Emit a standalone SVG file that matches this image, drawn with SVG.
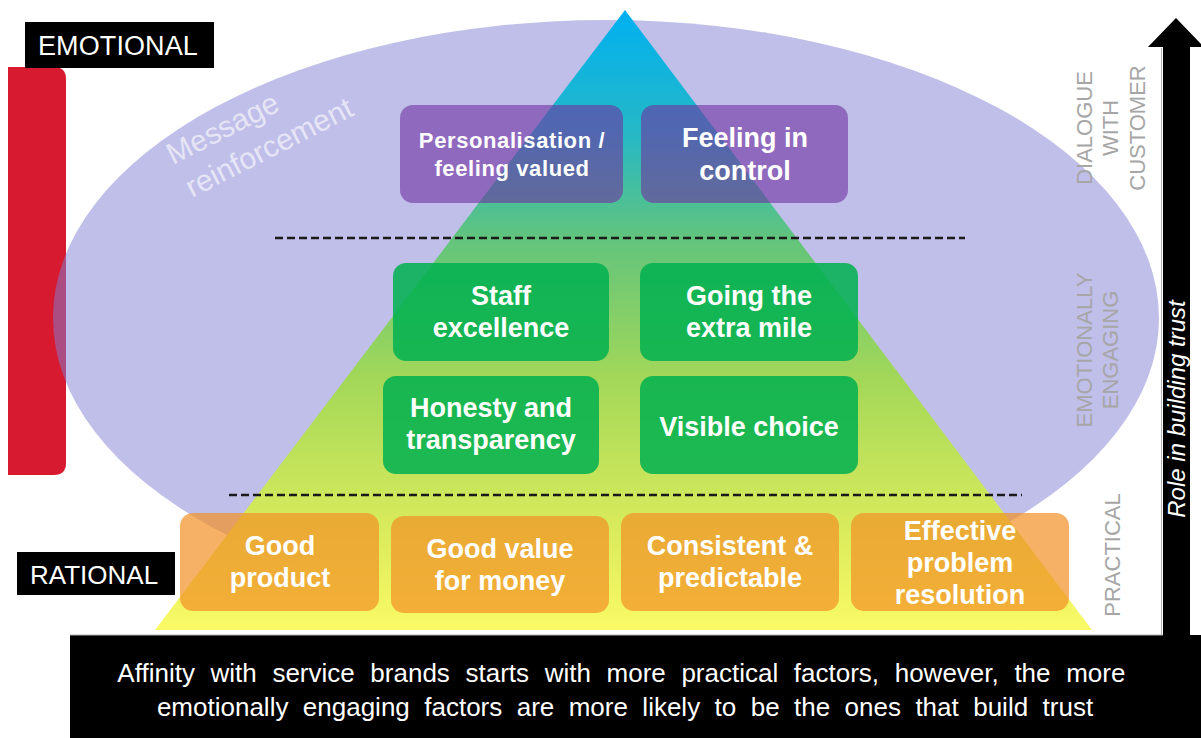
<svg xmlns="http://www.w3.org/2000/svg" width="1201" height="738" viewBox="0 0 1201 738">
  <defs>
    <linearGradient id="pyramidFill" x1="0" y1="10" x2="0" y2="630" gradientUnits="userSpaceOnUse">
      <stop offset="0" stop-color="#00b0f0"/>
      <stop offset="0.2" stop-color="#26b8c6"/>
      <stop offset="0.37" stop-color="#62c47c"/>
      <stop offset="0.6" stop-color="#a4d858"/>
      <stop offset="0.85" stop-color="#dcec5c"/>
      <stop offset="1" stop-color="#fafa66"/>
    </linearGradient>
    <style>
      .sans { font-family: "Liberation Sans", Arial, sans-serif; }
      .tag { fill: #000000; }
      .tag-text { fill: #ffffff; }
      .box-purple { fill: #7030a0; fill-opacity: 0.6; }
      .box-green { fill: #00b050; fill-opacity: 0.85; }
      .box-orange { fill: #f29025; fill-opacity: 0.7; }
      .box-text { fill: #ffffff; font-weight: bold; text-anchor: middle; }
      .side-label { fill: #a6a6a6; font-size: 22px; text-anchor: middle; }
      .divider { stroke: #1a1a1a; stroke-width: 2.5; stroke-dasharray: 8 4; fill: none; }
    </style>
  </defs>

  <rect width="1201" height="738" fill="#ffffff"/>

  <!-- red emotional/rational band -->
  <path id="band" d="M8 67 H54 Q66 67 66 79 V463 Q66 475 54 475 H8 Z" fill="#d71a30"/>

  <!-- message reinforcement ellipse -->
  <g id="reinforcement">
    <ellipse cx="606" cy="318" rx="553" ry="298" fill="#8080d4" fill-opacity="0.5"/>
    <text class="sans" transform="translate(173 165) rotate(-27)" font-size="30" fill="#ffffff" fill-opacity="0.6">
      <tspan x="0" y="0">Message</tspan>
      <tspan x="2" y="38">reinforcement</tspan>
    </text>
  </g>

  <!-- pyramid -->
  <polygon id="pyramid" points="625,10 1092,630 155,630" fill="url(#pyramidFill)"/>

  <!-- tier dividers -->
  <g id="connectors">
    <line class="divider" x1="275" y1="238" x2="965" y2="238"/>
    <line class="divider" x1="229" y1="495" x2="1022" y2="495"/>
  </g>

  <!-- top tier -->
  <g id="personalisation">
    <rect class="box-purple" x="400" y="105" width="223" height="98" rx="13"/>
    <text class="sans box-text" font-size="22" letter-spacing="0.6"><tspan x="512" y="148">Personalisation /</tspan><tspan x="512" y="176">feeling valued</tspan></text>
  </g>
  <g id="feeling-in-control">
    <rect class="box-purple" x="641" y="105" width="207" height="98" rx="13"/>
    <text class="sans box-text" font-size="27"><tspan x="745" y="147">Feeling in</tspan><tspan x="745" y="180">control</tspan></text>
  </g>

  <!-- middle tier -->
  <g id="staff-excellence">
    <rect class="box-green" x="393" y="263" width="216" height="98" rx="13"/>
    <text class="sans box-text" font-size="27"><tspan x="501" y="305">Staff</tspan><tspan x="501" y="337">excellence</tspan></text>
  </g>
  <g id="extra-mile">
    <rect class="box-green" x="640" y="263" width="218" height="98" rx="13"/>
    <text class="sans box-text" font-size="27"><tspan x="749" y="305">Going the</tspan><tspan x="749" y="337">extra mile</tspan></text>
  </g>
  <g id="honesty">
    <rect class="box-green" x="383" y="376" width="216" height="98" rx="13"/>
    <text class="sans box-text" font-size="27"><tspan x="491" y="417">Honesty and</tspan><tspan x="491" y="449">transparency</tspan></text>
  </g>
  <g id="visible-choice">
    <rect class="box-green" x="640" y="376" width="218" height="98" rx="13"/>
    <text class="sans box-text" font-size="27" x="749" y="436">Visible choice</text>
  </g>

  <!-- base tier -->
  <g id="good-product">
    <rect class="box-orange" x="180" y="513" width="199" height="98" rx="13"/>
    <text class="sans box-text" font-size="27"><tspan x="280" y="555">Good</tspan><tspan x="280" y="587">product</tspan></text>
  </g>
  <g id="good-value">
    <rect class="box-orange" x="391" y="516" width="218" height="97" rx="13"/>
    <text class="sans box-text" font-size="27"><tspan x="500" y="558">Good value</tspan><tspan x="500" y="590">for money</tspan></text>
  </g>
  <g id="consistent">
    <rect class="box-orange" x="621" y="513" width="218" height="98" rx="13"/>
    <text class="sans box-text" font-size="27"><tspan x="730" y="555">Consistent &amp;</tspan><tspan x="730" y="587">predictable</tspan></text>
  </g>
  <g id="problem-resolution">
    <rect class="box-orange" x="851" y="513" width="218" height="98" rx="13"/>
    <text class="sans box-text" font-size="27"><tspan x="960" y="540">Effective</tspan><tspan x="960" y="572">problem</tspan><tspan x="960" y="604">resolution</tspan></text>
  </g>

  <!-- scale tags -->
  <g id="emotional-tag">
    <rect class="tag" x="25" y="22" width="189" height="46"/>
    <text class="sans tag-text" x="38" y="55" font-size="27" letter-spacing="0.1">EMOTIONAL</text>
  </g>
  <g id="rational-tag">
    <rect class="tag" x="17" y="552" width="158" height="43"/>
    <text class="sans tag-text" x="30" y="584" font-size="26">RATIONAL</text>
  </g>

  <!-- tier names -->
  <g id="tier-dialogue">
    <text class="sans side-label" transform="translate(1092 128) rotate(-90)" x="0" y="0">DIALOGUE</text>
    <text class="sans side-label" transform="translate(1118 128) rotate(-90)" x="0" y="0">WITH</text>
    <text class="sans side-label" transform="translate(1145 128) rotate(-90)" x="0" y="0">CUSTOMER</text>
  </g>
  <g id="tier-engaging">
    <text class="sans side-label" transform="translate(1092 350) rotate(-90)" x="0" y="0">EMOTIONALLY</text>
    <text class="sans side-label" transform="translate(1118 350) rotate(-90)" x="0" y="0">ENGAGING</text>
  </g>
  <g id="tier-practical">
    <text class="sans side-label" transform="translate(1120 555) rotate(-90)" x="0" y="0">PRACTICAL</text>
  </g>

  <!-- trust arrow -->
  <g id="trust-arrow">
    <polygon points="1176,18 1204,47 1190,47 1190,636 1163,636 1163,47 1148,47" fill="#000000"/>
    <line x1="1161.5" y1="48" x2="1161.5" y2="636" stroke="#b0b0b0" stroke-width="1"/>
    <text class="sans" transform="translate(1185 409) rotate(-90)" x="0" y="0" font-size="24" font-style="italic" fill="#ffffff" text-anchor="middle">Role in building trust</text>
  </g>

  <!-- summary -->
  <g id="summary">
    <rect x="70" y="635" width="1131" height="103" fill="#000000"/>
    <line x1="70" y1="635" x2="1163" y2="635" stroke="#b0b0b0" stroke-width="1"/>
    <text class="sans" fill="#ffffff" font-size="26" text-anchor="middle">
      <tspan x="625" y="682" word-spacing="8.4">Affinity with service brands starts with more practical factors, however, the more</tspan>
      <tspan x="625" y="716" word-spacing="7.2">emotionally engaging factors are more likely to be the ones that build trust</tspan>
    </text>
  </g>
</svg>
